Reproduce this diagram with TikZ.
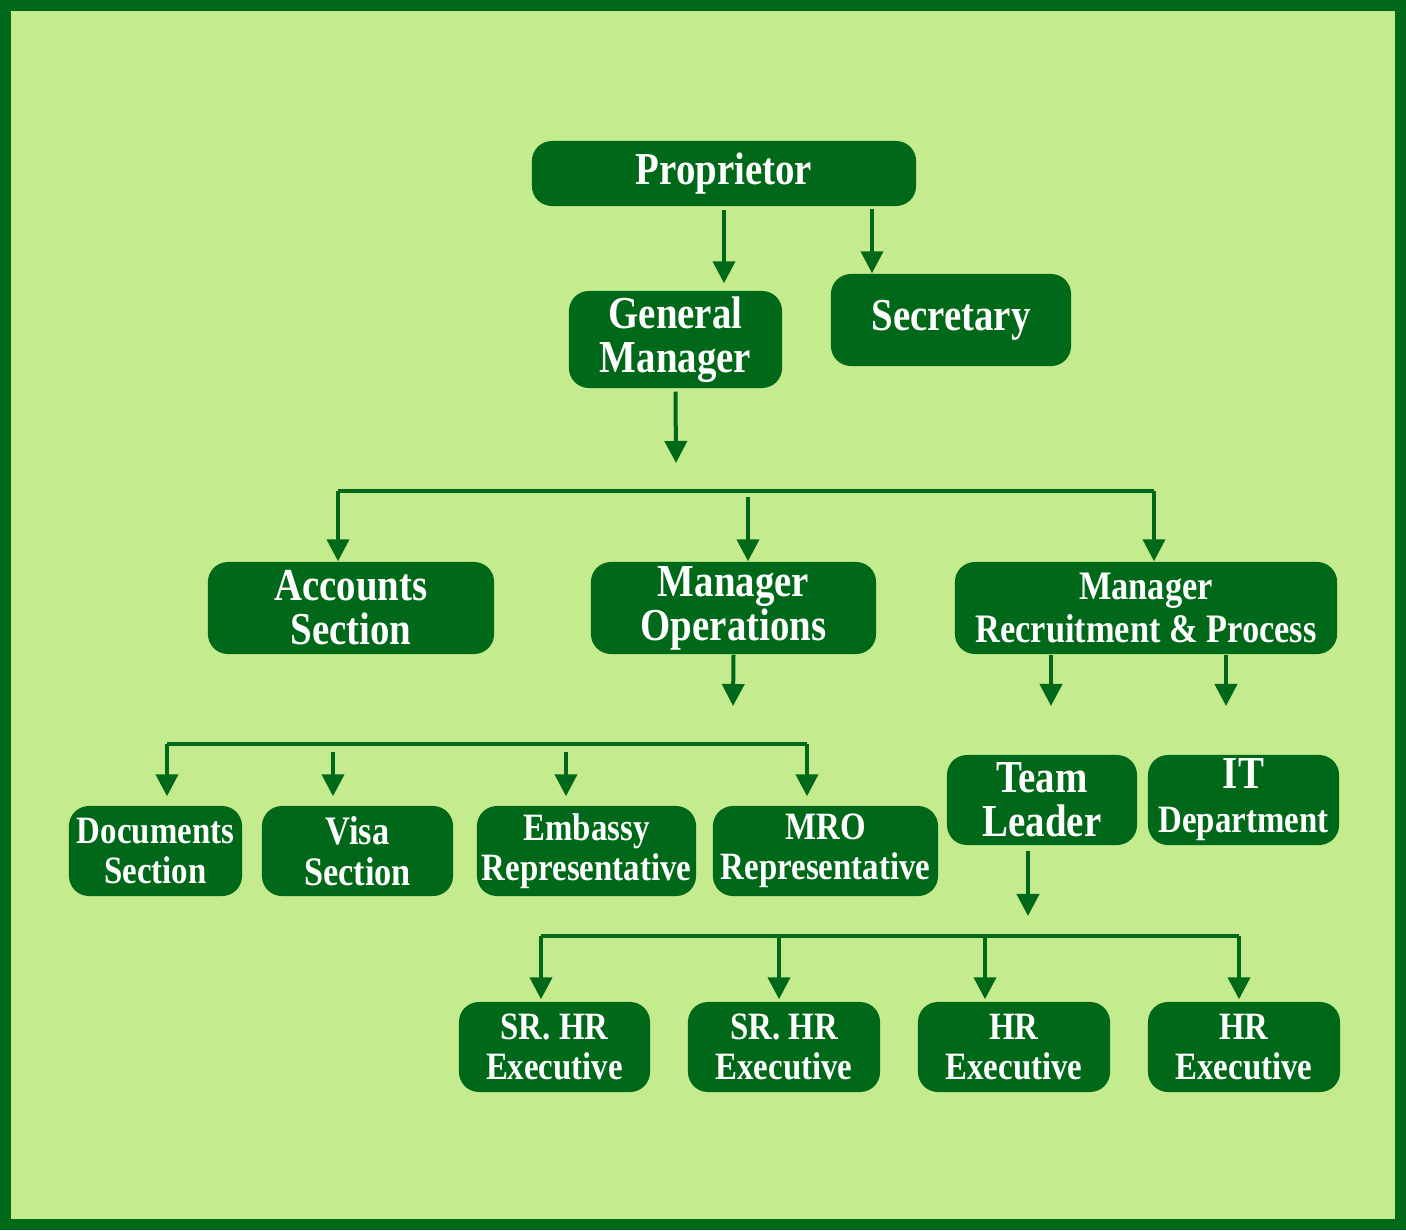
\documentclass[tikz,border=0pt]{standalone}
\usepackage{fontspec}
\setmainfont{Liberation Serif}[FakeStretch=0.85]
\usetikzlibrary{arrows.meta,calc}
\definecolor{dkgreen}{RGB}{0,105,25}
\definecolor{ltgreen}{RGB}{196,235,141}
\tikzset{
	box/.style={rectangle, rounded corners=0.2cm, fill=dkgreen, text=white, align=center, inner sep=0pt, font=\bfseries\fontsize{13}{12.5}\selectfont},
	small/.style={font=\bfseries\fontsize{11}{11.5}\selectfont},
	arr/.style={draw=dkgreen, line width=0.04cm, -{Triangle[width=0.22cm,length=0.22cm]}},
	bus/.style={draw=dkgreen, line width=0.04cm}
}
\begin{document}
\begin{tikzpicture}[x=0.01cm, y=-0.01cm]
		%%%%% FRAME %%%%%
		\fill[dkgreen] (0, 0) rectangle (1406, 1230);
		\fill[ltgreen] (11, 11) rectangle (1395, 1219);
		
		%%%%% BOXES %%%%%
		\node[box, minimum width=3.84cm, minimum height=0.65cm] (prop) at (724, 173.5) {Proprietor};
		\node[box, minimum width=2.13cm, minimum height=0.97cm] (gm) at (675.5, 339.5) {General\\Manager};
		\node[box, minimum width=2.40cm, minimum height=0.92cm] (secr) at (951, 320) {Secretary};
		
		\node[box, minimum width=2.86cm, minimum height=0.92cm] (acc) at (351, 608) {Accounts\\Section};
		\node[box, minimum width=2.85cm, minimum height=0.92cm] (mo) at (733.5, 608) {Manager\\Operations};
		\node[box, minimum width=3.82cm, minimum height=0.92cm, font=\bfseries\fontsize{11.5}{12}\selectfont] (mrp) at (1146, 608) {Manager\\Recruitment \& Process};
		
		\node[box, small, minimum width=1.73cm, minimum height=0.90cm] (docs) at (155.5, 851) {Documents\\Section};
		\node[box, minimum width=1.91cm, minimum height=0.90cm, font=\bfseries\fontsize{11.5}{11.5}\selectfont] (visa) at (357.5, 851) {Visa\\Section};
		\node[box, small, minimum width=2.19cm, minimum height=0.90cm] (emb) at (586.5, 851) {Embassy\\Representative};
		\node[box, small, minimum width=2.25cm, minimum height=0.90cm] (mro) at (825.5, 851) {MRO\\Representative};
		
		\node[box, minimum width=1.90cm, minimum height=0.90cm] (tl) at (1042, 800) {Team\\Leader};
		\node[box, minimum width=1.91cm, minimum height=0.90cm] (it) at (1243.5, 800) {IT\\{\fontsize{11}{12}\selectfont Department}};
		
		\node[box, small, minimum width=1.91cm, minimum height=0.90cm] (hra) at (554.5, 1047) {SR. HR\\Executive};
		\node[box, small, minimum width=1.92cm, minimum height=0.90cm] (hrb) at (784, 1047) {SR. HR\\Executive};
		\node[box, small, minimum width=1.92cm, minimum height=0.90cm] (hrc) at (1014, 1047) {HR\\Executive};
		\node[box, small, minimum width=1.92cm, minimum height=0.90cm] (hrd) at (1244, 1047) {HR\\Executive};
		
		%%%%% TOP ARROWS %%%%%
		\draw[arr, shorten >=0.07cm] ($(prop.south)+(0,3)$) -- (prop.south |- gm.north);
		\coordinate (secrin) at (872, 209);
		\draw[arr] (secrin) -- (secrin |- secr.north);
		\coordinate (gmend) at (676, 463);
		\draw[arr] ($(gm.south)+(0,3)$) -- (gmend);
		
		%%%%% FIRST BUS %%%%%
		\coordinate (busal) at (338, 491);
		\coordinate (busar) at (1154, 491);
		\draw[bus] (busal) -- (busar);
		\draw[arr] (busal) -- (busal |- acc.north);
		\draw[arr] ($(mo.north)+(14.5,-64)$) -- ($(mo.north)+(14.5,0)$);
		\draw[arr] (busar) -- (busar |- mrp.north);
		
		%%%%% UNDER THE MANAGERS %%%%%
		\coordinate (moend) at (733, 706);
		\draw[arr] (mo.south) -- (moend);
		\coordinate (tlin) at (1051, 706);
		\coordinate (itin) at (1226, 706);
		\draw[arr] (tlin |- mrp.south) -- (tlin);
		\draw[arr] (itin |- mrp.south) -- (itin);
		
		%%%%% SECOND BUS %%%%%
		\coordinate (busbl) at (167, 744);
		\coordinate (busbr) at (807, 744);
		\draw[bus] (busbl) -- (busbr);
		\draw[arr, shorten >=0.09cm] (busbl) -- (busbl |- docs.north);
		\draw[arr, shorten >=0.09cm] ($(visa.north)+(-24.5,-53)$) -- ($(visa.north)+(-24.5,0)$);
		\draw[arr, shorten >=0.09cm] ($(emb.north)+(-20.5,-53)$) -- ($(emb.north)+(-20.5,0)$);
		\draw[arr, shorten >=0.09cm] (busbr) -- (busbr |- mro.north);
		
		%%%%% THIRD BUS %%%%%
		\coordinate (tlend) at (1028, 916);
		\draw[arr] ($(tl.south)+(-14,5)$) -- (tlend);
		\coordinate (buscl) at (541, 936);
		\coordinate (buscr) at (1239, 936);
		\draw[bus] (buscl) -- (buscr);
		\draw[arr, shorten >=0.02cm] (buscl) -- (buscl |- hra.north);
		\draw[arr, shorten >=0.02cm] ($(hrb.north)+(-5,-64)$) -- ($(hrb.north)+(-5,0)$);
		\draw[arr, shorten >=0.02cm] ($(hrc.north)+(-29,-64)$) -- ($(hrc.north)+(-29,0)$);
		\draw[arr, shorten >=0.02cm] (buscr) -- (buscr |- hrd.north);
		%%%%% END %%%%%
\end{tikzpicture}
\end{document}
